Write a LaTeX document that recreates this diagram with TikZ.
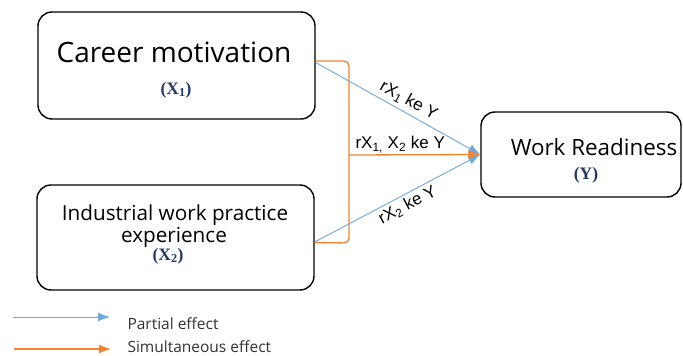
\documentclass[tikz,border=0pt]{standalone}
\usepackage{fontspec}
\setmainfont{Open Sans}
\newfontfamily\labelfont{Liberation Sans}
\newfontfamily\varfont{Liberation Serif}
\usepackage{tikz}
\usetikzlibrary{arrows.meta}
\usepackage{xcolor}
\definecolor{partblue}{HTML}{6FA8DC}
\definecolor{simorange}{HTML}{F4822F}
\definecolor{varnavy}{HTML}{1F3864}

\begin{document}
\begin{tikzpicture}[x=1pt,y=-1pt,
    box/.style={draw,rounded corners=14pt,line width=1.4pt},
    partial/.style={draw=partblue,line width=0.9pt,-{Latex[length=12pt,width=9pt]}},
    simult/.style={draw=simorange,line width=1.3pt,-{Latex[length=12pt,width=9pt]}},
    vartext/.style={font=\varfont\bfseries\fontsize{17.5}{18}\selectfont,text=varnavy,anchor=base},
    arrtext/.style={font=\labelfont\fontsize{17}{17}\selectfont,inner sep=1pt}]
    \useasboundingbox (0,0) rectangle (683,356);
    % boxes
    \node[box,minimum width=277pt,minimum height=107pt] (cm) at (176.5,65.5) {};
    \node[box,minimum width=277pt,minimum height=105pt] (iwp) at (175.5,237.5) {};
    \node[box,minimum width=200pt,minimum height=85pt] (wr) at (581,154.5) {};
    \node[anchor=base,font=\fontsize{28}{32}\selectfont] (cmname) at (174,62) {Career motivation};
    \node[vartext] (cmvar) at (176,94) {(X\textsubscript{1})};
    \node[anchor=base,font=\fontsize{20.7}{24}\selectfont] (iwpname) at (175,220) {Industrial work practice};
    \node[anchor=base,font=\fontsize{20.7}{24}\selectfont] (iwpname2) at (174,242) {experience};
    \node[vartext] (iwpvar) at (168,260) {(X\textsubscript{2})};
    \node[anchor=base,font=\fontsize{22.4}{26}\selectfont] (wrname) at (594,155) {Work Readiness};
    \node[vartext] (wrvar) at (586,179) {(Y)};
    % bracket and effects
    \coordinate (brk) at (349,155);
    \draw[simorange,line width=1.3pt,rounded corners=5pt] ([yshift=4.5pt]cm.east) -- (349,61) -- (349,243) -- ([yshift=-5pt]iwp.east);
    \draw[partial] ([yshift=3pt]cm.east) -- (wr.west)
        node[arrtext,sloped,above=3pt,pos=0.53] {rX\textsubscript{1} ke Y};
    \draw[partial] ([yshift=-4.5pt]iwp.east) -- (wr.west)
        node[arrtext,sloped,below=2pt,pos=0.53] {rX\textsubscript{2} ke Y};
    \draw[simult] (brk) -- (wr.west)
        node[arrtext,above=0.5pt,pos=0.39] {rX\textsubscript{1,} X\textsubscript{2} ke Y};
    % legend
    \coordinate (pa) at (13,317);
    \coordinate (pb) at (110,317);
    \coordinate (sa) at (14,349);
    \coordinate (sb) at (111,349);
    \draw[partial] (pa) -- (pb);
    \draw[simult] (sa) -- (sb);
    \node[anchor=base west,font=\fontsize{15.5}{18}\selectfont,text=black!80] (pleg) at (124,329) {Partial effect};
    \node[anchor=base west,font=\fontsize{15.5}{18}\selectfont,text=black!80] (sleg) at (124,352) {Simultaneous effect};
\end{tikzpicture}
\end{document}
